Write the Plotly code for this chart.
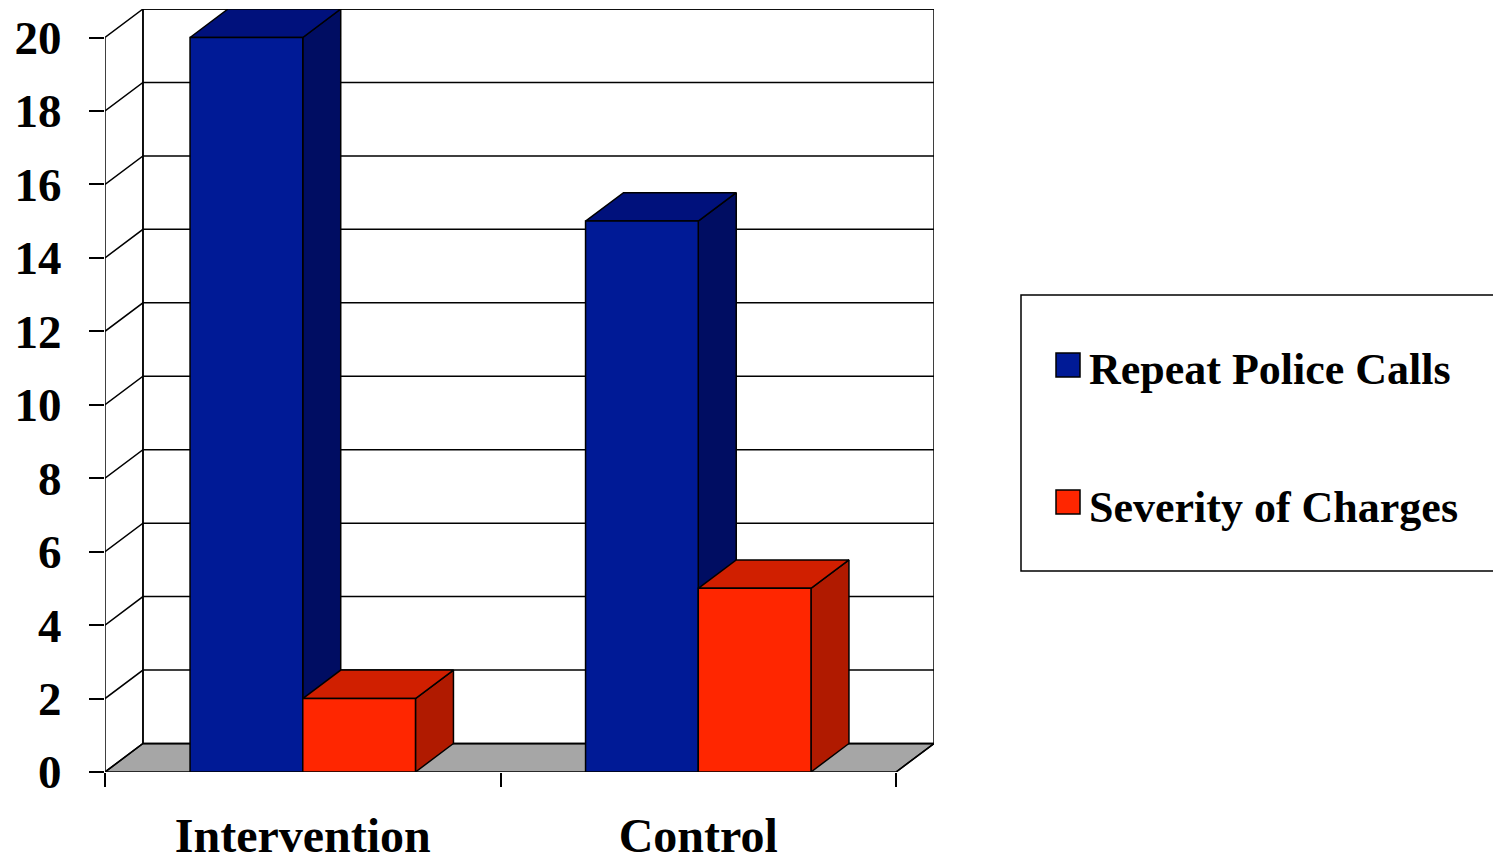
import plotly.graph_objects as go

# ---- data ----
categories = ["Intervention", "Control"]
series_names = ["Repeat Police Calls", "Severity of Charges"]
repeat_police_calls = [20, 15]
severity_of_charges = [2, 5]
y_ticks = [0, 2, 4, 6, 8, 10, 12, 14, 16, 18, 20]

# ---- styling ----
FONT = "Liberation Serif"
FRONT = ["#001a96", "#ff2600"]
TOP = ["#00117c", "#d01f00"]
SIDE = ["#000d62", "#b01a00"]
FLOOR = "#a6a6a6"
EDGE = dict(color="black", width=1.5)

# 3-D projection offsets (in data units) and bar width
DX, DY = 0.096, 0.776
BAR_W = 0.285
Y_MAX = 20
X_LO, X_HI = -0.5, len(categories) - 0.5

W, H = 1493, 856
L, R, T, B = 105, W - 934, 9, H - 772

fig = go.Figure()


def poly(xs, ys, fill, name=None, hover=False):
    fig.add_trace(go.Scatter(
        x=xs + [xs[0]], y=ys + [ys[0]], mode="lines", fill="toself",
        fillcolor=fill, line=EDGE, showlegend=False,
        hoverinfo="text" if hover else "skip", text=name,
    ))


# floor
poly([X_LO, X_HI, X_HI + DX, X_LO + DX], [0, 0, DY, DY], FLOOR)

# back wall (white) and walls' grid lines
poly([X_LO + DX, X_HI + DX, X_HI + DX, X_LO + DX],
     [DY, DY, Y_MAX + DY, Y_MAX + DY], "white")
gx, gy = [], []
for v in y_ticks:
    gx += [X_LO, X_LO + DX, X_HI + DX, None]
    gy += [v, v + DY, v + DY, None]
gx += [X_LO, X_LO, None, X_LO + DX, X_LO + DX, None, X_HI, X_HI + DX]
gy += [0, Y_MAX, None, DY, Y_MAX + DY, None, 0, DY]
fig.add_trace(go.Scatter(x=gx, y=gy, mode="lines", line=EDGE,
                         showlegend=False, hoverinfo="skip"))

# bars: side, top, then front face for each series in each category
series = [repeat_police_calls, severity_of_charges]
for i, cat in enumerate(categories):
    for s, vals in enumerate(series):
        v = vals[i]
        x0 = i - BAR_W + s * BAR_W
        x1 = x0 + BAR_W
        poly([x1, x1 + DX, x1 + DX, x1], [0, DY, v + DY, v], SIDE[s])
        poly([x0, x1, x1 + DX, x0 + DX], [v, v, v + DY, v + DY], TOP[s])
        poly([x0, x1, x1, x0], [0, 0, v, v], FRONT[s],
             name=f"{series_names[s]}<br>{cat}: {v}", hover=True)


# ---- legend box (drawn in paper coordinates) ----
def px_x(p):
    return (p - L) / (W - L - R)


def px_y(p):
    return (H - B - p) / (H - T - B)


shapes = [dict(type="rect", xref="paper", yref="paper",
               x0=px_x(1021), x1=px_x(1510), y0=px_y(571), y1=px_y(295),
               line=dict(color="black", width=1.5), fillcolor="white",
               layer="above")]
annotations = []
for s, (name, ytop, ytext) in enumerate(zip(series_names, [353, 490], [370, 508])):
    shapes.append(dict(type="rect", xref="paper", yref="paper",
                       x0=px_x(1056), x1=px_x(1080),
                       y0=px_y(ytop + 24), y1=px_y(ytop),
                       line=dict(color="black", width=1.5),
                       fillcolor=FRONT[s], layer="above"))
    annotations.append(dict(text=name, xref="paper", yref="paper",
                            x=px_x(1087), y=px_y(ytext), xanchor="left",
                            yanchor="middle", showarrow=False,
                            font=dict(family=FONT, size=44, color="black",
                                      weight="bold")))

fig.update_layout(
    width=W, height=H,
    margin=dict(l=L, r=R, t=T, b=B, autoexpand=False),
    paper_bgcolor="white", plot_bgcolor="white",
    showlegend=False,
    shapes=shapes, annotations=annotations,
    xaxis=dict(
        range=[X_LO, X_HI + DX], showgrid=False, zeroline=False,
        showline=False, tickmode="array",
        tickvals=list(range(len(categories))), ticktext=categories,
        ticks="", ticklabelstandoff=31,
        tickfont=dict(family=FONT, size=48, color="black", weight="bold"),
        minor=dict(tickvals=[X_LO + k for k in range(len(categories) + 1)],
                   ticks="outside", ticklen=14, tickwidth=1.5,
                   tickcolor="black", showgrid=False),
        fixedrange=True,
    ),
    yaxis=dict(
        range=[0, Y_MAX + DY], showgrid=False, zeroline=False,
        showline=False, tickmode="array", tickvals=y_ticks,
        ticks="outside", ticklen=15, tickwidth=1.5, tickcolor="black",
        ticklabelstandoff=18,
        tickfont=dict(family=FONT, size=47, color="black", weight="bold"),
        fixedrange=True,
    ),
)

fig.write_html("out.html")
